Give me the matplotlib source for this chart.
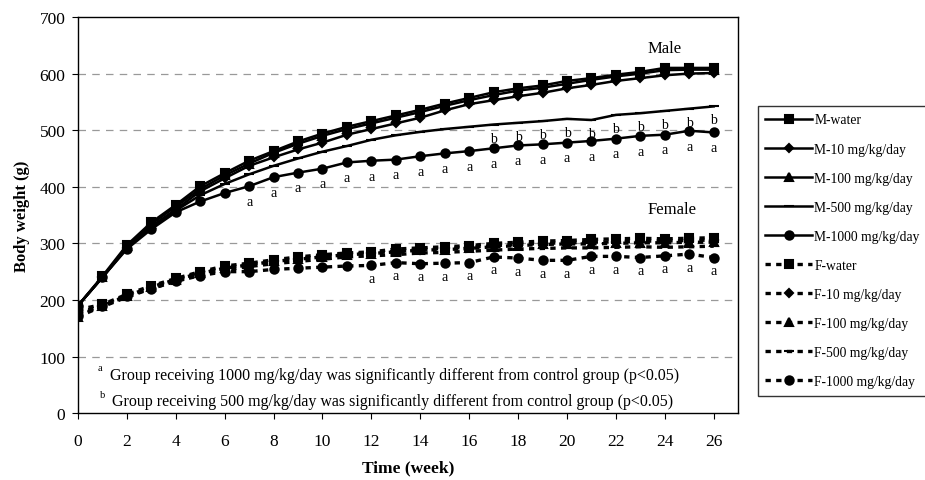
import numpy as np
import matplotlib.pyplot as plt

plt.rcParams['font.family'] = ['Liberation Serif', 'DejaVu Serif']

weeks = list(range(27))

m_water = [190, 242, 297, 337, 368, 401, 424, 446, 463, 480, 494, 506, 516, 526, 536, 547, 557, 567, 574, 579, 587, 592, 598, 603, 610, 610, 610]
m_10 = [190, 240, 292, 330, 360, 392, 415, 437, 452, 466, 478, 492, 502, 512, 522, 535, 546, 553, 560, 566, 574, 580, 587, 592, 597, 600, 601]
m_100 = [190, 240, 295, 334, 365, 396, 420, 441, 460, 476, 490, 502, 512, 522, 532, 543, 553, 562, 570, 575, 582, 589, 595, 600, 606, 607, 607]
m_500 = [190, 240, 292, 328, 358, 385, 405, 422, 437, 450, 462, 472, 483, 491, 497, 502, 506, 510, 513, 516, 520, 518, 527, 530, 534, 538, 542]
m_1000 = [190, 240, 290, 325, 355, 374, 389, 401, 417, 425, 432, 443, 446, 448, 454, 459, 463, 468, 473, 475, 478, 481, 485, 490, 492, 499, 496]

f_water = [183, 192, 210, 225, 238, 250, 260, 265, 271, 276, 280, 283, 285, 290, 292, 294, 296, 300, 302, 304, 305, 307, 308, 309, 308, 309, 310]
f_10 = [178, 190, 208, 222, 236, 248, 257, 263, 268, 273, 277, 281, 283, 286, 289, 291, 293, 296, 298, 300, 301, 302, 303, 304, 304, 305, 306]
f_100 = [170, 189, 207, 223, 236, 247, 256, 262, 268, 272, 276, 280, 282, 285, 288, 289, 291, 294, 296, 298, 299, 299, 300, 301, 301, 302, 302]
f_500 = [175, 188, 205, 220, 233, 245, 253, 259, 264, 268, 272, 276, 278, 280, 283, 284, 286, 288, 290, 291, 292, 292, 293, 294, 293, 294, 295]
f_1000 = [172, 190, 207, 220, 233, 243, 250, 250, 254, 256, 258, 260, 261, 266, 264, 265, 266, 276, 274, 270, 270, 277, 277, 275, 278, 281, 275]

# weeks with significance marks
m_a_weeks = list(range(7, 27))
m_b_weeks = list(range(17, 27))
f_a_weeks = list(range(12, 27))

labels_m = ['M-water', 'M-10 mg/kg/day', 'M-100 mg/kg/day', 'M-500 mg/kg/day', 'M-1000 mg/kg/day']
labels_f = ['F-water', 'F-10 mg/kg/day', 'F-100 mg/kg/day', 'F-500 mg/kg/day', 'F-1000 mg/kg/day']
markers = ['s', 'D', '^', '_', 'o']
msizes = [6, 4.5, 5.5, 7, 6]

fig = plt.figure(figsize=(9.25, 4.81), dpi=100)
ax = fig.add_axes([0.0843, 0.139, 0.7137, 0.8236])

male = [m_water, m_10, m_100, m_500, m_1000]
female = [f_water, f_10, f_100, f_500, f_1000]

for ys, lab, mk, ms in zip(male, labels_m, markers, msizes):
    ax.plot(weeks, ys, color='black', lw=1.8, marker=mk, ms=ms, mew=1.5, label=lab, zorder=3)
for ys, lab, mk, ms in zip(female, labels_f, markers, msizes):
    ax.plot(weeks, ys, color='black', lw=2.4, ls=(0, (1.6, 1.6)), marker=mk, ms=ms, mew=1.5, label=lab, zorder=3)

# significance letters
for w in m_a_weeks:
    ax.text(w, m_1000[w] - 27, 'a', ha='center', va='center', fontsize=10)
for w in m_b_weeks:
    ax.text(w, m_500[w] - 24, 'b', ha='center', va='center', fontsize=10)
for w in f_a_weeks:
    ax.text(w, f_1000[w] - 23, 'a', ha='center', va='center', fontsize=10)

ax.text(24, 645, 'Male', ha='center', va='center', fontsize=12)
ax.text(24.3, 360, 'Female', ha='center', va='center', fontsize=12)

ax.text(0.8, 80, 'a', fontsize=7.5, va='center')
ax.text(1.3, 68, 'Group receiving 1000 mg/kg/day was significantly different from control group (p<0.05)',
        fontsize=11.5, va='center')
ax.text(0.9, 33, 'b', fontsize=7.5, va='center')
ax.text(1.4, 21, 'Group receiving 500 mg/kg/day was significantly different from control group (p<0.05)',
        fontsize=11.5, va='center')

ax.set_xlim(0, 27)
ax.set_ylim(0, 700)
ax.set_xticks(range(0, 27, 2))
ax.set_yticks(range(0, 701, 100))
ax.tick_params(direction='out', labelsize=12.5, length=4)
ax.tick_params(axis='x', pad=10)
ax.tick_params(axis='y', pad=5)
for v in range(100, 700, 100):
    ax.axhline(v, color='#999999', lw=0.9, ls=(0, (6, 5)), zorder=1)

ax.set_xlabel('Time (week)', fontsize=12.5, fontweight='bold', labelpad=8)
ax.set_ylabel('Body weight (g)', fontsize=12, fontweight='bold', labelpad=7)

for s in ax.spines.values():
    s.set_linewidth(1.0)

leg = fig.legend(loc='upper left', bbox_to_anchor=(758 / 925, 1 - 107 / 481), fontsize=9.8,
                 frameon=True, fancybox=False, edgecolor='black', handlelength=3.4,
                 labelspacing=1.18, borderaxespad=0, handletextpad=0.2, borderpad=0.55)
leg.get_frame().set_linewidth(1.0)

fig.savefig('out.png', dpi=100)
